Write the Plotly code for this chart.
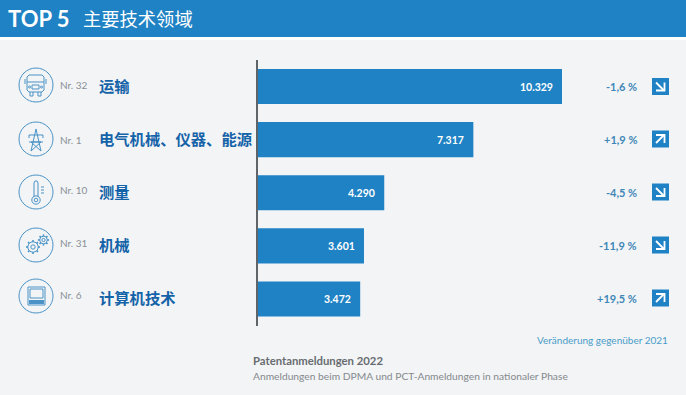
import math
import plotly.graph_objects as go

W, H = 686, 395
# --- data ---
categories = ["运输", "电气机械、仪器、能源", "测量", "机械", "计算机技术"]
ranks = ["Nr. 32", "Nr. 1", "Nr. 10", "Nr. 31", "Nr. 6"]
applications = [10329, 7317, 4290, 3601, 3472]
changes = ["-1,6 %", "+1,9 %", "-4,5 %", "-11,9 %", "+19,5 %"]
directions = ["down", "up", "down", "down", "up"]

BLUE = "#1f82c4"
ICON = "#4b93c6"
LABEL = "#1463a8"
BG = "#f2f4f6"
CJK = "Noto Sans CJK SC"
LAT = "Lato"


def px(x):
    return x / W


def py(y):
    return 1 - y / H


shapes = []


def rect(x0, y0, x1, y1, fill=None, line=None, lw=1, layer="below"):
    shapes.append(dict(type="rect", xref="paper", yref="paper", x0=px(x0), x1=px(x1), y0=py(y0), y1=py(y1),
                       fillcolor=fill or "rgba(0,0,0,0)", line=dict(color=line or "rgba(0,0,0,0)", width=lw if line else 0),
                       layer=layer))


def circle(cx, cy, r, line=ICON, lw=1, fill=None):
    shapes.append(dict(type="circle", xref="paper", yref="paper", x0=px(cx - r), x1=px(cx + r), y0=py(cy - r), y1=py(cy + r),
                       fillcolor=fill or "rgba(0,0,0,0)", line=dict(color=line, width=lw), layer="above"))


def poly(points, line=ICON, lw=1, closed=False):
    d = "M " + " L ".join(f"{px(x):.5f},{py(y):.5f}" for x, y in points)
    if closed:
        d += " Z"
    shapes.append(dict(type="path", xref="paper", yref="paper", path=d, line=dict(color=line, width=lw),
                       fillcolor="rgba(0,0,0,0)", layer="above"))


# header band and white strip
rect(0, 0, W, 37, fill=BLUE)
rect(0, 37, W, 40, fill="#ffffff")

# icon rings
ring_y = [85, 139, 192, 245, 296]
for y in ring_y:
    circle(36, y, 17)

# bus
poly([(27, 90), (27, 77), (29, 75), (42, 75), (44, 77), (44, 90), (42, 92), (29, 92)], closed=True)
poly([(27, 82), (44, 82)])
poly([(25, 79), (25, 84)]); poly([(46, 79), (46, 84)])
rect(32, 85, 39, 89, line=ICON, layer="above")
circle(29.5, 87, 1); circle(41.5, 87, 1)
poly([(30, 92), (30, 96), (33, 96), (33, 92)]); poly([(38, 92), (38, 96), (41, 96), (41, 92)])

# pylon
poly([(31, 151), (36, 129), (41, 151)])
poly([(29, 135), (43, 135)]); poly([(29, 142), (43, 142)])
poly([(29, 135), (29, 138)]); poly([(43, 135), (43, 138)])
poly([(31, 151), (41, 142), (31, 142), (41, 151)])

# thermometer
poly([(34, 197), (34, 183), (35, 181), (37, 181), (38, 183), (38, 197)])
circle(36, 200, 4.2); circle(36, 200, 1.8)
for y in (187, 190, 193):
    poly([(41, y), (44, y)])


# gears
def gear(cx, cy, r, teeth):
    circle(cx, cy, r); circle(cx, cy, r * 0.42)
    for i in range(teeth):
        a = 2 * math.pi * i / teeth
        poly([(cx + r * math.cos(a), cy + r * math.sin(a)),
              (cx + (r + 1.8) * math.cos(a), cy + (r + 1.8) * math.sin(a))], lw=1.6)


gear(33, 247, 5.2, 8)
gear(43.5, 240, 3.8, 8)

# laptop
rect(28, 287, 45, 305, line=ICON, layer="above")
rect(30, 289, 43, 298, line=ICON, layer="above")
rect(29, 300, 44, 304, fill=ICON, layer="above")

# change arrows in squares
arrow_y = [86.5, 139, 192, 245, 298]
for y, d in zip(arrow_y, directions):
    rect(652, y - 8.5, 669, y + 8.5, fill=BLUE, layer="above")
    if d == "down":
        poly([(656, y - 4), (664, y + 4)], line="#ffffff", lw=1.8)
        poly([(656, y + 4), (664.5, y + 4), (664.5, y - 4)], line="#ffffff", lw=1.8)
    else:
        poly([(656, y + 4), (664, y - 4)], line="#ffffff", lw=1.8)
        poly([(656, y - 4), (664.5, y - 4), (664.5, y + 4)], line="#ffffff", lw=1.8)

fig = go.Figure(go.Bar(
    x=applications, y=categories, orientation="h",
    marker=dict(color=BLUE, line=dict(width=0)), hoverinfo="skip",
))

ann = []


def text(t, x, y, size, color, anchor="left", family=LAT, bold=False):
    ann.append(dict(text=f"<b>{t}</b>" if bold else t, xref="paper", yref="paper", x=px(x), y=py(y), xanchor=anchor,
                    yanchor="middle", showarrow=False, font=dict(family=family, size=size, color=color),
                    borderpad=0, borderwidth=0))


text("TOP 5", 8, 18.5, 22, "#ffffff", bold=True)
text("主要技术领域", 82.5, 18, 18.3, "#ffffff", family=CJK)

rank_y = [85, 140, 190, 243, 295]
for cat, r, ry, v, c in zip(categories, ranks, rank_y, applications, changes):
    text(r, 60, ry, 10, "#8b9094")
    ann.append(dict(text=f"<b>{cat}</b>", xref="paper", yref="y", x=px(97), y=cat, xanchor="left", yanchor="middle",
                    yshift=1.5, showarrow=False, font=dict(family=CJK, size=15.3, color=LABEL)))
    ann.append(dict(text=f"<b>{v:,}</b>".replace(",", "."), xref="x", yref="y", x=v, y=cat, xanchor="right",
                    yanchor="middle", xshift=-7, showarrow=False, font=dict(family=LAT, size=10.5, color="#ffffff")))
    ann.append(dict(text=f"<b>{c}</b>", xref="paper", yref="y", x=px(639), y=cat, xanchor="right", yanchor="middle",
                    showarrow=False, font=dict(family=LAT, size=11, color="#3f87b8")))

text("Veränderung gegenüber 2021", 668, 340, 10, "#4a9cc9", anchor="right")
text("Patentanmeldungen 2022", 253, 360, 11.3, "#686c70", bold=True)
text("Anmeldungen beim DPMA und PCT-Anmeldungen in nationaler Phase", 253, 376, 10.25, "#85898c")

fig.update_layout(
    width=W, height=H, margin=dict(l=0, r=0, t=0, b=0), autosize=False,
    paper_bgcolor=BG, plot_bgcolor="rgba(0,0,0,0)", showlegend=False,
    bargap=18 / 53, shapes=shapes, annotations=ann,
    xaxis=dict(domain=[258 / W, 1], range=[0, 428 * 10329 / 304], visible=False, fixedrange=True),
    yaxis=dict(domain=[1 - 325.5 / H, 1 - 60 / H], autorange="reversed", showticklabels=False, ticks="",
               showgrid=False, zeroline=False, showline=True, linecolor="#5f6468", linewidth=1.5, fixedrange=True),
)
fig.write_html("out.html", config={"displayModeBar": False},
               post_script="document.body.style.margin='0';document.documentElement.style.background='#f2f4f6';")
